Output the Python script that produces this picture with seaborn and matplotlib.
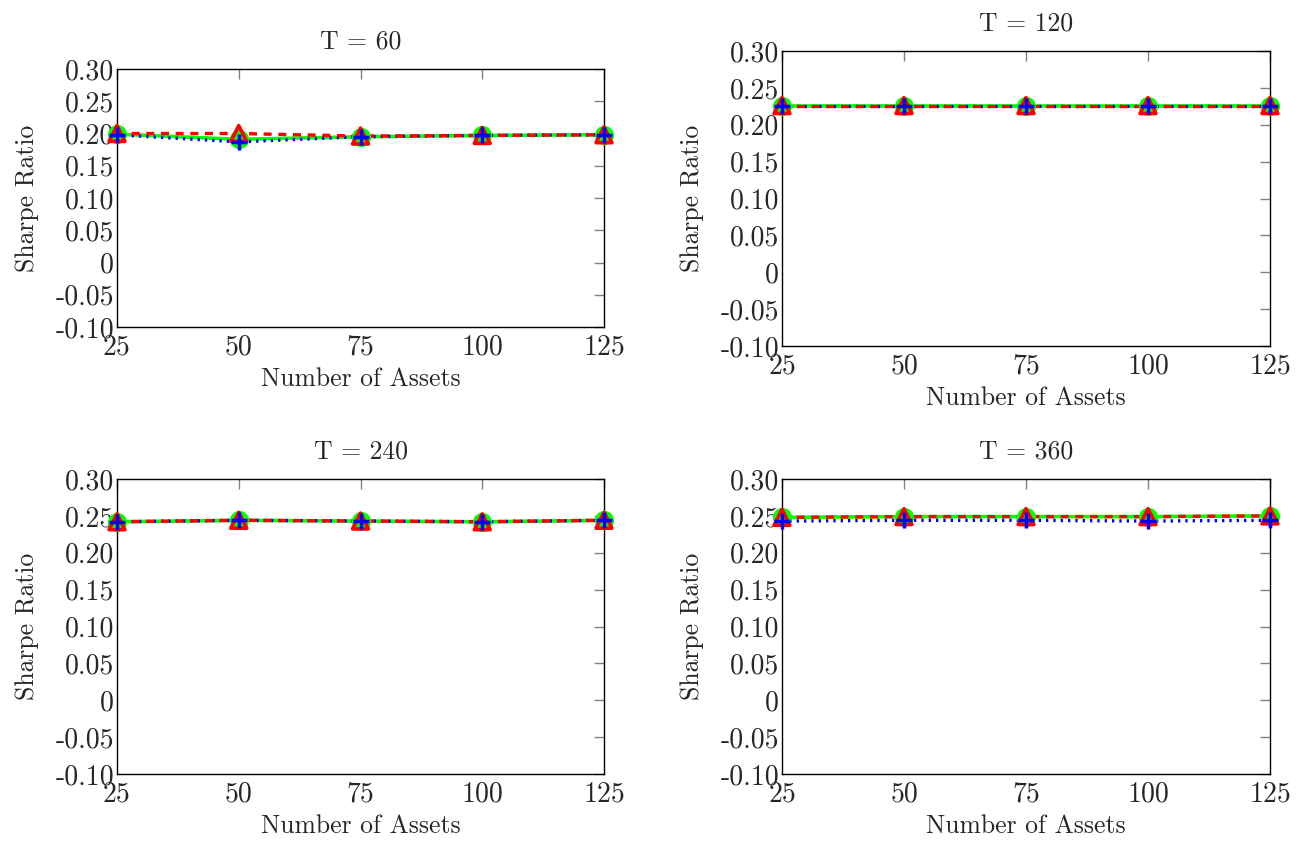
import numpy as np
import pandas as pd
import seaborn as sns
import matplotlib
matplotlib.use("Agg")
import matplotlib.pyplot as plt

# ---- data ----
assets = [25, 50, 75, 100, 125]
titles = ["T = 60", "T = 120", "T = 240", "T = 360"]

green_60 = [0.199, 0.191, 0.195, 0.197, 0.198]
blue_60 = [0.198, 0.187, 0.195, 0.197, 0.198]
red_60 = [0.200, 0.200, 0.196, 0.197, 0.198]

green_120 = [0.226, 0.226, 0.226, 0.226, 0.226]
blue_120 = [0.225, 0.225, 0.225, 0.225, 0.225]
red_120 = [0.226, 0.226, 0.226, 0.226, 0.226]

green_240 = [0.242, 0.244, 0.243, 0.242, 0.244]
blue_240 = [0.242, 0.244, 0.243, 0.242, 0.244]
red_240 = [0.242, 0.244, 0.243, 0.242, 0.244]

green_360 = [0.248, 0.249, 0.249, 0.249, 0.250]
blue_360 = [0.243, 0.244, 0.244, 0.243, 0.244]
red_360 = [0.248, 0.249, 0.249, 0.249, 0.250]

yticks = [-0.10, -0.05, 0.0, 0.05, 0.10, 0.15, 0.20, 0.25, 0.30]
ytick_labels = ["-0.10", "-0.05", "0", "0.05", "0.10", "0.15", "0.20", "0.25", "0.30"]
xtick_labels = ["25", "50", "75", "100", "125"]

panels = [
    (titles[0], green_60, blue_60, red_60),
    (titles[1], green_120, blue_120, red_120),
    (titles[2], green_240, blue_240, red_240),
    (titles[3], green_360, blue_360, red_360),
]

# ---- style ----
sns.set_style("white")
plt.rcParams["font.family"] = ["cmr10", "DejaVu Serif"]
plt.rcParams["mathtext.fontset"] = "cm"
plt.rcParams["axes.unicode_minus"] = False
plt.rcParams["axes.formatter.use_mathtext"] = True

fig = plt.figure(figsize=(12.97, 8.42), dpi=100)

W, H = 1297.0, 842.0
boxes = [
    (117, 69, 604, 327),
    (782, 51, 1270, 346),
    (117, 479, 604, 774),
    (782, 479, 1270, 774),
]

GREEN = (0, 1, 0)

for (title, g, b, r), (x0, y0, x1, y1) in zip(panels, boxes):
    ax = fig.add_axes([x0 / W, 1 - y1 / H, (x1 - x0) / W, (y1 - y0) / H])
    df = pd.DataFrame({"assets": assets, "green": g, "blue": b, "red": r})

    # lines
    sns.lineplot(data=df, x="assets", y="green", ax=ax, color=GREEN,
                 lw=2.6, zorder=3)
    sns.lineplot(data=df, x="assets", y="blue", ax=ax, color="blue",
                 lw=2.4, linestyle=(0, (0.7, 1.5)), zorder=4)
    sns.lineplot(data=df, x="assets", y="red", ax=ax, color="red",
                 lw=2.4, linestyle=(0, (2.4, 2.0)), zorder=5)

    # markers
    sns.scatterplot(data=df, x="assets", y="green", ax=ax, color=GREEN,
                    marker="o", s=190, linewidth=0, zorder=6, clip_on=False)
    sns.scatterplot(data=df, x="assets", y="red", ax=ax, marker="^", s=130,
                    facecolors="none", edgecolors="red", linewidth=2.6,
                    zorder=7, clip_on=False)
    sns.scatterplot(data=df, x="assets", y="blue", ax=ax, color="blue",
                    marker="+", s=130, linewidth=2.5, zorder=8, clip_on=False)

    ax.set_xlim(25, 125)
    ax.set_ylim(-0.10, 0.30)
    ax.set_xticks(assets)
    ax.set_xticklabels(xtick_labels)
    ax.set_yticks(yticks)
    ax.set_yticklabels(ytick_labels)
    ax.tick_params(axis="both", direction="in", length=7, width=1,
                   color="#808080", labelsize=20, top=True, right=True,
                   labeltop=False, labelright=False, pad=2)
    ax.tick_params(axis="x", pad=5)
    for s in ax.spines.values():
        s.set_color("black")
        s.set_linewidth(1.0)
    ax.set_xlabel("Number of Assets", fontsize=18.5, labelpad=5)
    ax.set_ylabel("Sharpe Ratio", fontsize=18.5, labelpad=12)
    ax.set_title(title, fontsize=18.5, pad=15)

fig.savefig("out.png", dpi=100)
